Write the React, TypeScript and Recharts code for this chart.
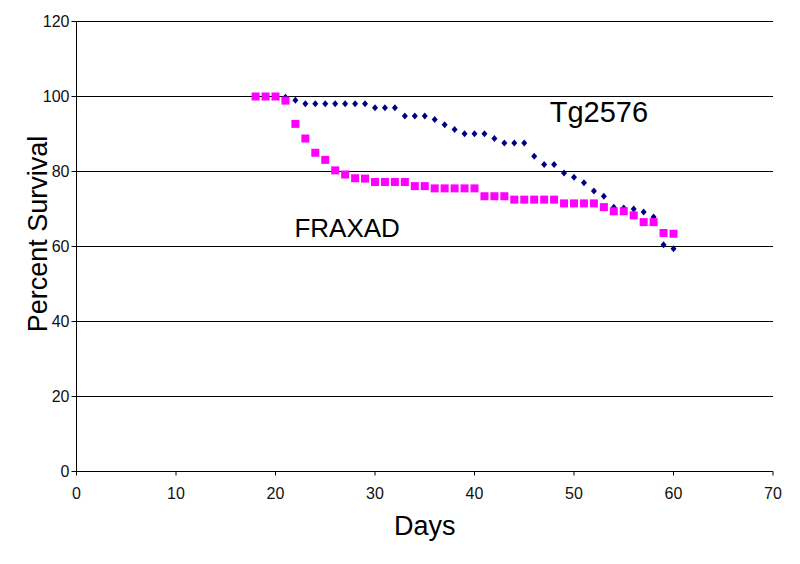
import { CartesianGrid, ReferenceDot, Scatter, ScatterChart, XAxis, YAxis } from "recharts"

const FRAXAD_DAYS = [
  18, 19, 20, 21, 22, 23, 24, 25, 26, 27, 28, 29, 30, 31, 32, 33, 34, 35, 36, 37, 38, 39,
  40, 41, 42, 43, 44, 45, 46, 47, 48, 49, 50, 51, 52, 53, 54, 55, 56, 57, 58, 59, 60,
]
const FRAXAD_SURVIVAL = [
  100, 100, 100, 98.9, 92.7, 88.8, 85, 83.1, 80.3, 79.2, 78.2, 78.1, 77.2, 77.2, 77.2, 77.2,
  76.1, 76.1, 75.5, 75.5, 75.5, 75.5, 75.5, 73.4, 73.4, 73.4, 72.5, 72.5, 72.5, 72.5, 72.5,
  71.5, 71.5, 71.5, 71.5, 70.5, 69.4, 69.4, 68.3, 66.5, 66.5, 63.6, 63.4,
]

const TG_DAYS = [
  18, 19, 20, 21, 22, 23, 24, 25, 26, 27, 28, 29, 30, 31, 32, 33, 34, 35, 36, 37, 38, 39,
  40, 41, 42, 43, 44, 45, 46, 47, 48, 49, 50, 51, 52, 53, 54, 55, 56, 57, 58, 59, 60,
]
const TG_SURVIVAL = [
  100, 100, 100, 99.8, 99, 98.1, 98.1, 98.1, 98.1, 98.1, 98.1, 98.1, 97, 97, 97, 94.8, 94.8,
  94.8, 93.9, 92.5, 91.2, 90.1, 90.1, 90.1, 88.8, 87.6, 87.6, 87.6, 84.1, 81.9, 81.9, 79.6,
  78.5, 77, 74.8, 73.4, 70.5, 70.3, 70, 69.2, 67.9, 60.5, 59.4,
]

const X_TICKS = [0, 10, 20, 30, 40, 50, 60, 70]
const Y_TICKS = [0, 20, 40, 60, 80, 100, 120]

const fraxad = FRAXAD_DAYS.map((d, i) => ({ day: d, value: FRAXAD_SURVIVAL[i] }))
const tg2576 = TG_DAYS.map((d, i) => ({ day: d, value: TG_SURVIVAL[i] }))

const FONT = "'Liberation Sans', Arial, sans-serif"

function Diamond(props: any) {
  const { cx, cy } = props
  if (cx == null || cy == null) return null
  return (
    <path
      d={`M${cx},${cy - 3.5} L${cx + 3},${cy} L${cx},${cy + 3.5} L${cx - 3},${cy} Z`}
      fill="#000080"
    />
  )
}

function Square(props: any) {
  const { cx, cy } = props
  if (cx == null || cy == null) return null
  return <rect x={cx - 4} y={cy - 4} width={8} height={8} fill="#ff00ff" />
}

export default function App() {
  return (
    <div style={{ position: "absolute", left: 0, top: 0, background: "#fff" }}>
      <ScatterChart
        width={800}
        height={564}
        margin={{ top: 21.5, right: 27, bottom: 0, left: 0 }}
        style={{ fontFamily: FONT }}
      >
        <CartesianGrid horizontal vertical={false} stroke="#000" strokeOpacity={1} />
        <XAxis
          type="number"
          dataKey="day"
          domain={[0, 70]}
          ticks={X_TICKS}
          height={92.5}
          stroke="#000"
          tickSize={4}
          tickMargin={12}
          tick={{ fill: "#111", fontSize: 16 }}
          label={{ value: "Days", position: "insideTop", offset: 44, fill: "#000", fontSize: 27 }}
        />
        <YAxis
          type="number"
          dataKey="value"
          domain={[0, 120]}
          ticks={Y_TICKS}
          width={76.5}
          stroke="#000"
          tickSize={5}
          tick={{ fill: "#111", fontSize: 16 }}
          label={() => (
            <text
              x={38}
              y={234}
              transform="rotate(-90 38 234)"
              textAnchor="middle"
              dominantBaseline="central"
              fontSize={27}
              fill="#000"
            >
              Percent Survival
            </text>
          )}
        />
        <Scatter data={tg2576} shape={Diamond} isAnimationActive={false} />
        <Scatter data={fraxad} shape={Square} isAnimationActive={false} />
        <ReferenceDot
          x={52.5}
          y={96}
          r={0}
          fill="none"
          stroke="none"
          label={{ value: "Tg2576", position: "center", fontSize: 29, fill: "#000" }}
        />
        <ReferenceDot
          x={27.2}
          y={65.1}
          r={0}
          fill="none"
          stroke="none"
          label={{ value: "FRAXAD", position: "center", fontSize: 26, fill: "#000" }}
        />
      </ScatterChart>
    </div>
  )
}
